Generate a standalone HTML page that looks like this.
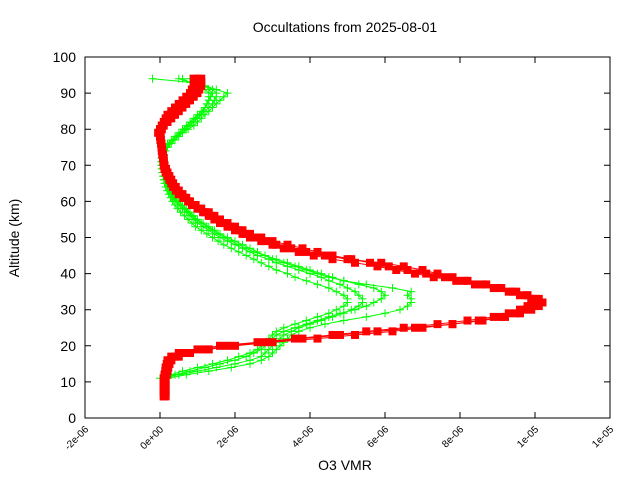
<!DOCTYPE html>
<html><head><meta charset="utf-8"><style>
body{margin:0;background:#fff}
svg{display:block;font-family:"Liberation Sans",sans-serif}
</style></head><body>
<svg id="chart" width="640" height="480" viewBox="0 0 640 480" xmlns="http://www.w3.org/2000/svg">
<rect width="640" height="480" fill="#fff"/>
<text x="345" y="32" font-size="14" text-anchor="middle">Occultations from 2025-08-01</text>
<text transform="translate(19,238) rotate(-90)" font-size="14" text-anchor="middle">Altitude (km)</text>
<text x="345" y="470" font-size="14" text-anchor="middle">O3 VMR</text>
<g id="axes"></g>
<g id="series"></g>
<rect x="85" y="57" width="525" height="361" fill="none" stroke="#000" stroke-width="1"/>
</svg>
<script>
const xTicks=[-2,0,2,4,6,8,10,12];
const xTickLabels=["-2e-06","0e+00","2e-06","4e-06","6e-06","8e-06","1e-05","1e-05"];
const yTicks=[0,10,20,30,40,50,60,70,80,90,100];
const redAlt=[6,7,8,9,10,11,12,13,14,15,16,17,18,19,20,21,22,23,24,25,26,27,28,29,30,31,32,33,34,35,36,37,38,39,40,41,42,43,44,45,46,47,48,49,50,51,52,53,54,55,56,57,58,59,60,61,62,63,64,65,66,67,68,69,70,71,72,73,74,75,76,77,78,79,80,81,82,83,84,85,86,87,88,89,90,91,92,93,94];
const redA=[0.1,0.1,0.1,0.1,0.1,0.1,0.12,0.14,0.15,0.18,0.2,0.3,0.5,1.0,1.6,2.6,3.6,4.6,5.5,6.5,7.4,8.2,8.9,9.3,9.6,9.8,10.0,9.9,9.6,9.3,8.9,8.4,7.9,7.3,6.8,6.3,5.8,5.2,4.6,4.1,3.7,3.3,3.0,2.7,2.4,2.2,2.0,1.8,1.6,1.45,1.3,1.15,1.0,0.85,0.75,0.62,0.5,0.42,0.35,0.3,0.25,0.2,0.15,0.12,0.1,0.09,0.08,0.06,0.05,0.04,0.03,0.01,0.0,0.0,0.0,0.05,0.1,0.15,0.2,0.3,0.4,0.5,0.6,0.7,0.8,0.85,0.9,0.9,0.9];
const redB=[0.15,0.15,0.15,0.15,0.15,0.15,0.18,0.2,0.22,0.25,0.3,0.5,0.8,1.3,2.0,3.0,4.2,5.2,6.2,7.0,7.8,8.6,9.2,9.6,9.9,10.1,10.2,10.1,9.8,9.4,9.0,8.6,8.1,7.6,7.1,6.6,6.1,5.6,5.1,4.6,4.2,3.8,3.4,3.0,2.7,2.4,2.2,2.0,1.8,1.6,1.45,1.3,1.1,0.95,0.8,0.7,0.6,0.5,0.42,0.35,0.3,0.25,0.2,0.16,0.12,0.1,0.1,0.08,0.06,0.05,0.04,0.02,0.02,0.0,0.05,0.1,0.2,0.3,0.4,0.5,0.6,0.7,0.8,0.9,1.0,1.05,1.1,1.1,1.1];
const redC=[0.1,0.1,0.1,0.1,0.1,0.12,0.14,0.16,0.2,0.25,0.3,0.4,0.6,1.2,1.8,2.8,3.8,4.8,5.8,6.8,7.8,8.5,9.1,9.5,9.7,9.9,10.1,10.0,9.8,9.5,9.1,8.7,8.2,7.8,7.4,7.0,6.5,5.9,5.0,4.4,3.9,3.5,3.1,2.8,2.5,2.3,2.1,1.9,1.7,1.5,1.35,1.2,1.05,0.9,0.78,0.65,0.55,0.45,0.38,0.32,0.27,0.22,0.17,0.13,0.11,0.1,0.09,0.07,0.05,0.04,0.03,0.02,0.0,-0.05,0.0,0.05,0.15,0.25,0.35,0.45,0.55,0.65,0.75,0.85,0.95,1.0,1.0,1.0,1.0];
const greenAlt=[11,12,13,14,15,16,17,18,19,20,21,22,23,24,25,26,27,28,29,30,31,32,33,34,35,36,37,38,39,40,41,42,43,44,45,46,47,48,49,50,51,52,53,54,55,56,57,58,59,60,61,62,63,64,65,66,67,68,69,70,71,72,73,74,75,76,77,78,79,80,81,82,83,84,85,86,87,88,89,90,91,92,93,94];
const greenA=[0.1,0.5,1.0,1.5,2.0,2.4,2.7,2.8,2.9,3.0,3.1,3.2,3.3,3.5,3.7,4.0,4.3,4.6,4.9,5.1,5.3,5.4,5.4,5.3,5.2,5.0,4.8,4.5,4.3,4.0,3.7,3.4,3.1,2.9,2.6,2.4,2.2,2.0,1.8,1.6,1.45,1.3,1.15,1.0,0.9,0.8,0.7,0.6,0.5,0.4,0.35,0.3,0.25,0.2,0.15,0.12,0.1,0.08,0.06,0.05,0.05,0.05,0.07,0.1,0.15,0.2,0.3,0.4,0.5,0.6,0.7,0.8,0.9,1.0,1.1,1.2,1.25,1.3,1.35,1.4,1.3,1.2,1.0,0.8];
const greenB=[0.2,0.7,1.3,1.9,2.4,2.7,2.9,3.0,3.1,3.2,3.3,3.4,3.5,3.7,4.0,4.4,4.9,5.5,6.0,6.4,6.6,6.7,6.7,6.6,6.7,6.2,5.5,4.9,4.5,4.2,3.9,3.6,3.3,3.0,2.8,2.6,2.4,2.2,2.0,1.8,1.6,1.45,1.3,1.15,1.0,0.9,0.8,0.7,0.6,0.5,0.42,0.35,0.3,0.25,0.2,0.16,0.13,0.1,0.08,0.07,0.07,0.08,0.1,0.15,0.2,0.3,0.4,0.5,0.6,0.75,0.9,1.0,1.1,1.2,1.3,1.4,1.5,1.6,1.7,1.8,1.5,1.2,0.8,0.5];
const greenC=[0.1,0.4,0.8,1.2,1.6,2.0,2.3,2.5,2.7,2.8,2.9,3.0,3.1,3.3,3.6,3.9,4.2,4.5,4.8,5.2,5.5,5.7,5.9,6.0,5.9,5.7,5.3,4.9,4.6,4.3,4.0,3.7,3.4,3.1,2.8,2.5,2.3,2.1,1.9,1.7,1.55,1.4,1.25,1.1,0.95,0.85,0.75,0.65,0.55,0.45,0.38,0.32,0.27,0.22,0.17,0.13,0.1,0.08,0.06,0.05,0.04,0.04,0.06,0.1,0.15,0.25,0.35,0.45,0.6,0.7,0.8,0.9,1.0,1.1,1.2,1.3,1.4,1.45,1.5,1.5,1.4,1.2,0.8,-0.2];
const greenD=[0.0,0.3,0.6,1.0,1.4,1.8,2.1,2.4,2.6,2.7,2.8,2.9,3.0,3.1,3.3,3.6,3.9,4.2,4.5,4.7,4.9,5.0,5.0,4.9,4.7,4.5,4.2,3.9,3.6,3.4,3.1,2.9,2.7,2.5,2.3,2.1,1.9,1.7,1.55,1.4,1.25,1.1,0.95,0.85,0.75,0.65,0.55,0.47,0.4,0.33,0.28,0.23,0.19,0.15,0.12,0.1,0.08,0.06,0.05,0.04,0.04,0.05,0.08,0.12,0.18,0.25,0.35,0.45,0.55,0.65,0.75,0.85,0.95,1.05,1.15,1.2,1.25,1.3,1.3,1.3,1.2,1.0,0.8,0.6];

const X0=85,X1=610,Y0=418,Y1=57;
function xs(v){return X0+(v+2)/14*(X1-X0);}
function ys(a){return Y0-a/100*(Y0-Y1);}
const NS="http://www.w3.org/2000/svg";
const axes=document.getElementById('axes'),series=document.getElementById('series');
function mk(tag,at,parent){const e=document.createElementNS(NS,tag);for(const k in at)e.setAttribute(k,at[k]);parent.appendChild(e);return e;}
xTicks.forEach((t,i)=>{const x=xs(t);
 const l=mk('path',{d:`M${x},${Y0}v-6M${x},${Y1}v6`,stroke:'#000'},axes);
 
 
 const tx=mk('text',{transform:`translate(${x+4},${Y0+12}) rotate(-45)`,'font-size':'10','text-anchor':'end'},axes);
 tx.textContent=xTickLabels[i];
 
 
});
yTicks.forEach(t=>{const y=ys(t);
 const l=mk('path',{d:`M${X0},${y}h6M${X1},${y}h-6`,stroke:'#000'},axes);
 
 
 const tx=mk('text',{x:X0-9,y:y+5,'font-size':'14','text-anchor':'end'},axes);
 tx.textContent=t;
 
 
});
function drawGreen(vals,name){
 const g=mk('g',{},series);
 
 
 let d='',m='';
 vals.forEach((v,i)=>{const x=xs(v),y=ys(greenAlt[i]);d+=(i?'L':'M')+x.toFixed(1)+','+y.toFixed(1);m+=`M${(x-4).toFixed(1)},${y.toFixed(1)}h8M${x.toFixed(1)},${(y-4).toFixed(1)}v8`;});
 mk('path',{d:d,fill:'none',stroke:'#00ff00','stroke-width':'1'},g);
 mk('path',{d:m,fill:'none',stroke:'#00ff00','stroke-width':'1'},g);
}
function drawRed(vals,name){
 const g=mk('g',{},series);
 
 
 let d='';
 vals.forEach((v,i)=>{const x=xs(v),y=ys(redAlt[i]);d+=(i?'L':'M')+x.toFixed(1)+','+y.toFixed(1);});
 mk('path',{d:d,fill:'none',stroke:'#ff0000','stroke-width':'1'},g);
 vals.forEach((v,i)=>{const r=mk('rect',{x:xs(v)-4,y:ys(redAlt[i])-4,width:8,height:8,fill:'#ff0000'},g);
  
  });
}
drawGreen(greenA,'green-profile-a');
drawGreen(greenB,'green-profile-b');
drawGreen(greenC,'green-profile-c');
drawGreen(greenD,'green-profile-d');
drawRed(redA,'red-profile-a');
drawRed(redB,'red-profile-b');
drawRed(redC,'red-profile-c');
</script>
</body></html>
